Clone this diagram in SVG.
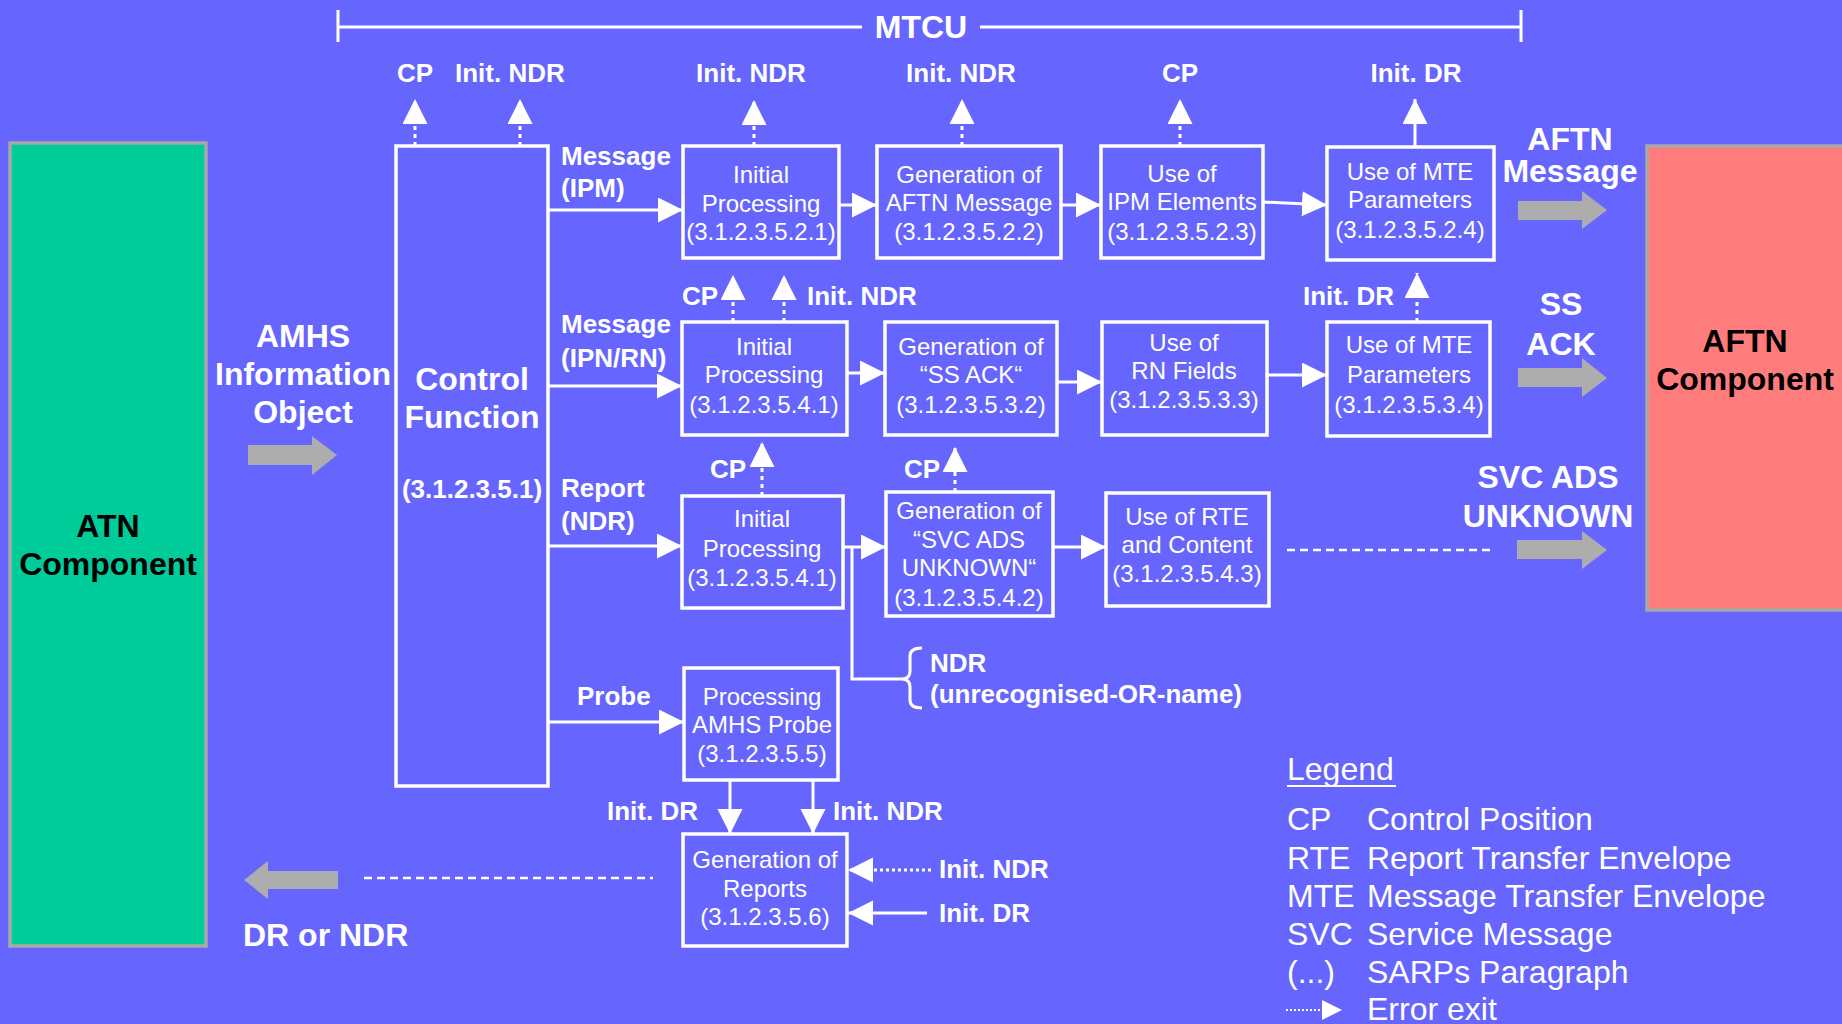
<svg xmlns="http://www.w3.org/2000/svg" width="1842" height="1024" viewBox="0 0 1842 1024">
<style>
.bx{fill:none;stroke:#fff;stroke-width:3.5}
.ln{fill:none;stroke:#fff;stroke-width:3}
.dot{fill:none;stroke:#fff;stroke-width:3;stroke-dasharray:4 4}
.dash{fill:none;stroke:#fff;stroke-width:2.5;stroke-dasharray:8 5}
.t{font-family:"Liberation Sans",Arial,sans-serif;font-size:24px;fill:#fff;text-anchor:middle}
.lb{font-family:"Liberation Sans",Arial,sans-serif;font-size:26px;font-weight:bold;fill:#fff}
.big{font-family:"Liberation Sans",Arial,sans-serif;font-size:32px;font-weight:bold;fill:#fff;text-anchor:middle}
.blk{fill:#000}
.lg{font-family:"Liberation Sans",Arial,sans-serif;font-size:32px;fill:#fff}
.ga{fill:#ADADAD}
.c{text-anchor:middle}
.e{text-anchor:end}
</style>
<defs>
<marker id="ah" markerUnits="userSpaceOnUse" markerWidth="26" markerHeight="26" refX="25" refY="12.5" orient="auto">
<path d="M0,0 L25,12.5 L0,25 z" fill="#fff"/>
</marker>
</defs>
<rect x="0" y="0" width="1842" height="1024" fill="#6666FF"/>

<g id="mtcu">
<path class="ln" d="M338,27 H862 M980,27 H1521 M338,10 V42 M1521,10 V42"/>
<text class="big" x="921" y="38">MTCU</text>
</g>

<g id="atn">
<rect x="10" y="143" width="196" height="803" fill="#00CC99" stroke="#A8A8A8" stroke-width="3.5"/>
<text class="big blk" x="108" y="537">ATN</text>
<text class="big blk" x="108" y="575">Component</text>
</g>

<g id="aftn">
<rect x="1647" y="146" width="200" height="464" fill="#FF7C7C" stroke="#A8A8A8" stroke-width="3.5"/>
<text class="big blk" x="1745" y="352">AFTN</text>
<text class="big blk" x="1745" y="390">Component</text>
</g>

<g id="amhs">
<text class="big" x="303" y="347">AMHS</text>
<text class="big" x="303" y="385">Information</text>
<text class="big" x="303" y="423">Object</text>
<polygon class="ga" points="248,445 312,445 312,436 337,455 312,475 312,465 248,465"/>
</g>

<g id="control">
<rect class="bx" x="396" y="146" width="152" height="640"/>
<text class="big" x="472" y="390">Control</text>
<text class="big" x="472" y="428">Function</text>
<text class="big" x="472" y="498" style="font-size:26px">(3.1.2.3.5.1)</text>
</g>

<g id="ipm1">
<rect class="bx" x="683" y="146" width="156" height="112"/>
<text class="t" x="761" y="183">Initial</text>
<text class="t" x="761" y="212">Processing</text>
<text class="t" x="761" y="240">(3.1.2.3.5.2.1)</text>
</g>
<g id="ipm2">
<rect class="bx" x="877" y="146" width="184" height="112"/>
<text class="t" x="969" y="183">Generation of</text>
<text class="t" x="969" y="211">AFTN Message</text>
<text class="t" x="969" y="240">(3.1.2.3.5.2.2)</text>
</g>
<g id="ipm3">
<rect class="bx" x="1101" y="146" width="162" height="112"/>
<text class="t" x="1182" y="182">Use of</text>
<text class="t" x="1182" y="210">IPM Elements</text>
<text class="t" x="1182" y="240">(3.1.2.3.5.2.3)</text>
</g>
<g id="ipm4">
<rect class="bx" x="1327" y="147" width="167" height="113"/>
<text class="t" x="1410" y="180">Use of MTE</text>
<text class="t" x="1410" y="208">Parameters</text>
<text class="t" x="1410" y="238">(3.1.2.3.5.2.4)</text>
</g>

<g id="ipn1">
<rect class="bx" x="682" y="322" width="165" height="113"/>
<text class="t" x="764" y="355">Initial</text>
<text class="t" x="764" y="383">Processing</text>
<text class="t" x="764" y="413">(3.1.2.3.5.4.1)</text>
</g>
<g id="ipn2">
<rect class="bx" x="885" y="322" width="172" height="113"/>
<text class="t" x="971" y="355">Generation of</text>
<text class="t" x="971" y="383">“SS ACK“</text>
<text class="t" x="971" y="413">(3.1.2.3.5.3.2)</text>
</g>
<g id="ipn3">
<rect class="bx" x="1102" y="322" width="165" height="113"/>
<text class="t" x="1184" y="351">Use of</text>
<text class="t" x="1184" y="379">RN Fields</text>
<text class="t" x="1184" y="408">(3.1.2.3.5.3.3)</text>
</g>
<g id="ipn4">
<rect class="bx" x="1327" y="322" width="163" height="114"/>
<text class="t" x="1409" y="353">Use of MTE</text>
<text class="t" x="1409" y="383">Parameters</text>
<text class="t" x="1409" y="413">(3.1.2.3.5.3.4)</text>
</g>

<g id="ndr1">
<rect class="bx" x="682" y="496" width="161" height="112"/>
<text class="t" x="762" y="527">Initial</text>
<text class="t" x="762" y="557">Processing</text>
<text class="t" x="762" y="586">(3.1.2.3.5.4.1)</text>
</g>
<g id="ndr2">
<rect class="bx" x="886" y="492" width="167" height="124"/>
<text class="t" x="969" y="519">Generation of</text>
<text class="t" x="969" y="548">“SVC ADS</text>
<text class="t" x="969" y="576">UNKNOWN“</text>
<text class="t" x="969" y="606">(3.1.2.3.5.4.2)</text>
</g>
<g id="ndr3">
<rect class="bx" x="1106" y="493" width="163" height="113"/>
<text class="t" x="1187" y="525">Use of RTE</text>
<text class="t" x="1187" y="553">and Content</text>
<text class="t" x="1187" y="582">(3.1.2.3.5.4.3)</text>
</g>

<g id="probe">
<rect class="bx" x="684" y="668" width="154" height="112"/>
<text class="t" x="762" y="705">Processing</text>
<text class="t" x="762" y="733">AMHS Probe</text>
<text class="t" x="762" y="762">(3.1.2.3.5.5)</text>
</g>
<g id="reports">
<rect class="bx" x="683" y="834" width="164" height="112"/>
<text class="t" x="765" y="868">Generation of</text>
<text class="t" x="765" y="897">Reports</text>
<text class="t" x="765" y="925">(3.1.2.3.5.6)</text>
</g>

<g id="connectors">
<!-- row 1 -->
<path class="ln" marker-end="url(#ah)" d="M548,210 H683"/>
<path class="ln" marker-end="url(#ah)" d="M839,205 H877"/>
<path class="ln" marker-end="url(#ah)" d="M1061,205 H1101"/>
<path class="ln" marker-end="url(#ah)" d="M1263,202 L1327,205"/>
<path class="dot" marker-end="url(#ah)" d="M415,146 V99"/>
<path class="dot" marker-end="url(#ah)" d="M520,146 V99"/>
<path class="dot" marker-end="url(#ah)" d="M754,146 V100"/>
<path class="dot" marker-end="url(#ah)" d="M962,146 V99"/>
<path class="dot" marker-end="url(#ah)" d="M1180,146 V99"/>
<path class="ln" marker-end="url(#ah)" d="M1415,147 V99"/>
<!-- row 2 -->
<path class="ln" marker-end="url(#ah)" d="M548,386 H682"/>
<path class="ln" marker-end="url(#ah)" d="M847,373 H885"/>
<path class="ln" marker-end="url(#ah)" d="M1057,382 H1102"/>
<path class="ln" marker-end="url(#ah)" d="M1267,375 H1327"/>
<path class="dot" marker-end="url(#ah)" d="M733,322 V275"/>
<path class="dot" marker-end="url(#ah)" d="M784,322 V275"/>
<path class="dot" marker-end="url(#ah)" d="M1417,322 V273"/>
<!-- row 3 -->
<path class="ln" marker-end="url(#ah)" d="M548,546 H682"/>
<path class="ln" marker-end="url(#ah)" d="M843,547 H886"/>
<path class="ln" marker-end="url(#ah)" d="M1053,547 H1106"/>
<path class="dot" marker-end="url(#ah)" d="M762,496 V442"/>
<path class="dot" marker-end="url(#ah)" d="M955,492 V447"/>
<path class="ln" d="M852,547 V679 H902"/>
<path class="ln" d="M922,648 Q910,648 910,656 L910,671 Q910,679 902,679 Q910,679 910,687 L910,700 Q910,708 922,708"/>
<path class="dash" d="M1287,550 H1495"/>
<!-- row 4 -->
<path class="ln" marker-end="url(#ah)" d="M548,722 H684"/>
<path class="ln" marker-end="url(#ah)" d="M730,780 V834"/>
<path class="ln" marker-end="url(#ah)" d="M813,780 V834"/>
<path class="dot" style="stroke-dasharray:3 3" marker-end="url(#ah)" d="M931,870 H848"/>
<path class="ln" marker-end="url(#ah)" d="M927,913 H848"/>
<path class="dash" d="M364,878 H653"/>
<!-- grey block arrows -->
<polygon class="ga" points="1518,201 1582,201 1582,191 1607,210 1582,229 1582,220 1518,220"/>
<polygon class="ga" points="1518,368 1582,368 1582,358 1607,378 1582,397 1582,387 1518,387"/>
<polygon class="ga" points="1517,540 1582,540 1582,531 1607,550 1582,569 1582,559 1517,559"/>
<polygon class="ga" points="244,880 268,861 268,871 338,871 338,889 268,889 268,899"/>
</g>

<g id="labels">
<text class="lb c" x="415" y="82">CP</text>
<text class="lb" x="455" y="82">Init. NDR</text>
<text class="lb c" x="751" y="82">Init. NDR</text>
<text class="lb c" x="961" y="82">Init. NDR</text>
<text class="lb c" x="1180" y="82">CP</text>
<text class="lb c" x="1416" y="82">Init. DR</text>
<text class="lb" x="561" y="165">Message</text>
<text class="lb" x="561" y="197">(IPM)</text>
<text class="lb" x="561" y="333">Message</text>
<text class="lb" x="561" y="367">(IPN/RN)</text>
<text class="lb" x="561" y="497">Report</text>
<text class="lb" x="561" y="530">(NDR)</text>
<text class="lb" x="577" y="705">Probe</text>
<text class="lb" x="682" y="305">CP</text>
<text class="lb" x="807" y="305">Init. NDR</text>
<text class="lb e" x="1394" y="305">Init. DR</text>
<text class="lb" x="710" y="478">CP</text>
<text class="lb" x="904" y="478">CP</text>
<text class="lb" x="930" y="672">NDR</text>
<text class="lb" x="930" y="703">(unrecognised-OR-name)</text>
<text class="lb" x="607" y="820">Init. DR</text>
<text class="lb" x="833" y="820">Init. NDR</text>
<text class="lb" x="939" y="878">Init. NDR</text>
<text class="lb" x="939" y="922">Init. DR</text>
<text class="big" x="1570" y="150">AFTN</text>
<text class="big" x="1570" y="182">Message</text>
<text class="big" x="1561" y="315">SS</text>
<text class="big" x="1561" y="355">ACK</text>
<text class="big" x="1548" y="488">SVC ADS</text>
<text class="big" x="1548" y="527">UNKNOWN</text>
<text class="big" x="243" y="946" style="text-anchor:start">DR or NDR</text>
</g>

<g id="legend">
<text class="lg" x="1287" y="780">Legend</text>
<line x1="1287" y1="786" x2="1396" y2="786" stroke="#fff" stroke-width="2"/>
<text class="lg" x="1287" y="830">CP</text><text class="lg" x="1367" y="830">Control Position</text>
<text class="lg" x="1287" y="869">RTE</text><text class="lg" x="1367" y="869">Report Transfer Envelope</text>
<text class="lg" x="1287" y="907">MTE</text><text class="lg" x="1367" y="907">Message Transfer Envelope</text>
<text class="lg" x="1287" y="945">SVC</text><text class="lg" x="1367" y="945">Service Message</text>
<text class="lg" x="1287" y="983">(...)</text><text class="lg" x="1367" y="983">SARPs Paragraph</text>
<path d="M1286,1010 H1322" stroke="#fff" stroke-width="2" stroke-dasharray="2 2"/>
<polygon points="1322,1000 1342,1010 1322,1020" fill="#fff"/>
<text class="lg" x="1367" y="1020">Error exit</text>
</g>
</svg>
